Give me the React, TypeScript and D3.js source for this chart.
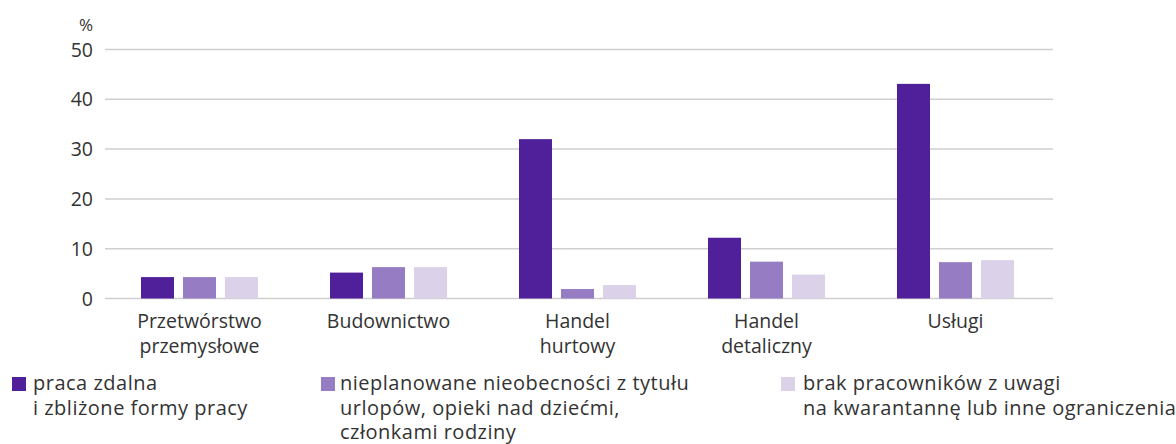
import React from "react";
import * as d3 from "d3";

const categories: string[][] = [
  ["Przetwórstwo", "przemysłowe"],
  ["Budownictwo"],
  ["Handel", "hurtowy"],
  ["Handel", "detaliczny"],
  ["Usługi"],
];
const seriesNames: string[][] = [
  ["praca zdalna", "i zbliżone formy pracy"],
  ["nieplanowane nieobecności z tytułu", "urlopów, opieki nad dziećmi,", "członkami rodziny"],
  ["brak pracowników z uwagi", "na kwarantannę lub inne ograniczenia"],
];
const remoteWork = [4.3, 5.2, 32.0, 12.2, 43.1];
const absences = [4.3, 6.3, 1.9, 7.4, 7.3];
const quarantine = [4.3, 6.3, 2.7, 4.8, 7.7];
const yTicks = [0, 10, 20, 30, 40, 50];
const colors = ["#50209a", "#967cc3", "#dbd2ea"];

const series = [remoteWork, absences, quarantine];
const FONT = "'Open Sans', 'Noto Sans', sans-serif";

export default function App() {
  const width = 1176;
  const height = 444;
  const x0 = d3
    .scaleBand<number>()
    .domain(categories.map((_, i) => i))
    .range([105, 1050])
    .paddingInner(0)
    .paddingOuter(0);
  const x1 = d3
    .scaleBand<number>()
    .domain([0, 1, 2])
    .range([0, 117])
    .paddingInner(9 / 42);
  const y = d3.scaleLinear().domain([0, 50]).range([298.5, 49.5]);
  const groupOffset = (x0.bandwidth() - 117) / 2;
  const legendX = [12, 321, 781];
  const legendTextX = [33, 340, 803];

  return (
    <svg
      width={width}
      height={height}
      style={{ position: "absolute", left: 0, top: 0, background: "#fff" }}
      fontFamily={FONT}
    >
      {yTicks.map((t) => (
        <g key={t}>
          <line x1={105} x2={1053} y1={y(t)} y2={y(t)} stroke="#cfcfcf" strokeWidth={1.5} />
          <text x={93} y={y(t) + 7} textAnchor="end" fontSize={19.5} fill="#333">
            {t}
          </text>
        </g>
      ))}
      <text x={93} y={31} textAnchor="end" fontSize={17} fill="#333">%</text>
      {categories.map((_, ci) =>
        series.map((s, si) => {
          const bx = (x0(ci) as number) + groupOffset + (x1(si) as number);
          return (
            <rect
              key={`${ci}-${si}`}
              x={bx}
              y={y(s[ci])}
              width={x1.bandwidth()}
              height={y(0) - y(s[ci])}
              fill={colors[si]}
            />
          );
        })
      )}
      {categories.map((lines, ci) => (
        <text
          key={ci}
          x={(x0(ci) as number) + x0.bandwidth() / 2}
          y={328}
          textAnchor="middle"
          fontSize={19.5}
          fill="#333"
        >
          {lines.map((l, li) => (
            <tspan key={li} x={(x0(ci) as number) + x0.bandwidth() / 2} dy={li === 0 ? 0 : 25}>
              {l}
            </tspan>
          ))}
        </text>
      ))}
      {seriesNames.map((lines, si) => (
        <g key={si}>
          <rect x={legendX[si]} y={377} width={14} height={14} fill={colors[si]} />
          <text x={legendTextX[si]} y={390} fontSize={20} letterSpacing={0.5} fill="#333">
            {lines.map((l, li) => (
              <tspan key={li} x={legendTextX[si]} dy={li === 0 ? 0 : 24.5}>
                {l}
              </tspan>
            ))}
          </text>
        </g>
      ))}
    </svg>
  );
}
